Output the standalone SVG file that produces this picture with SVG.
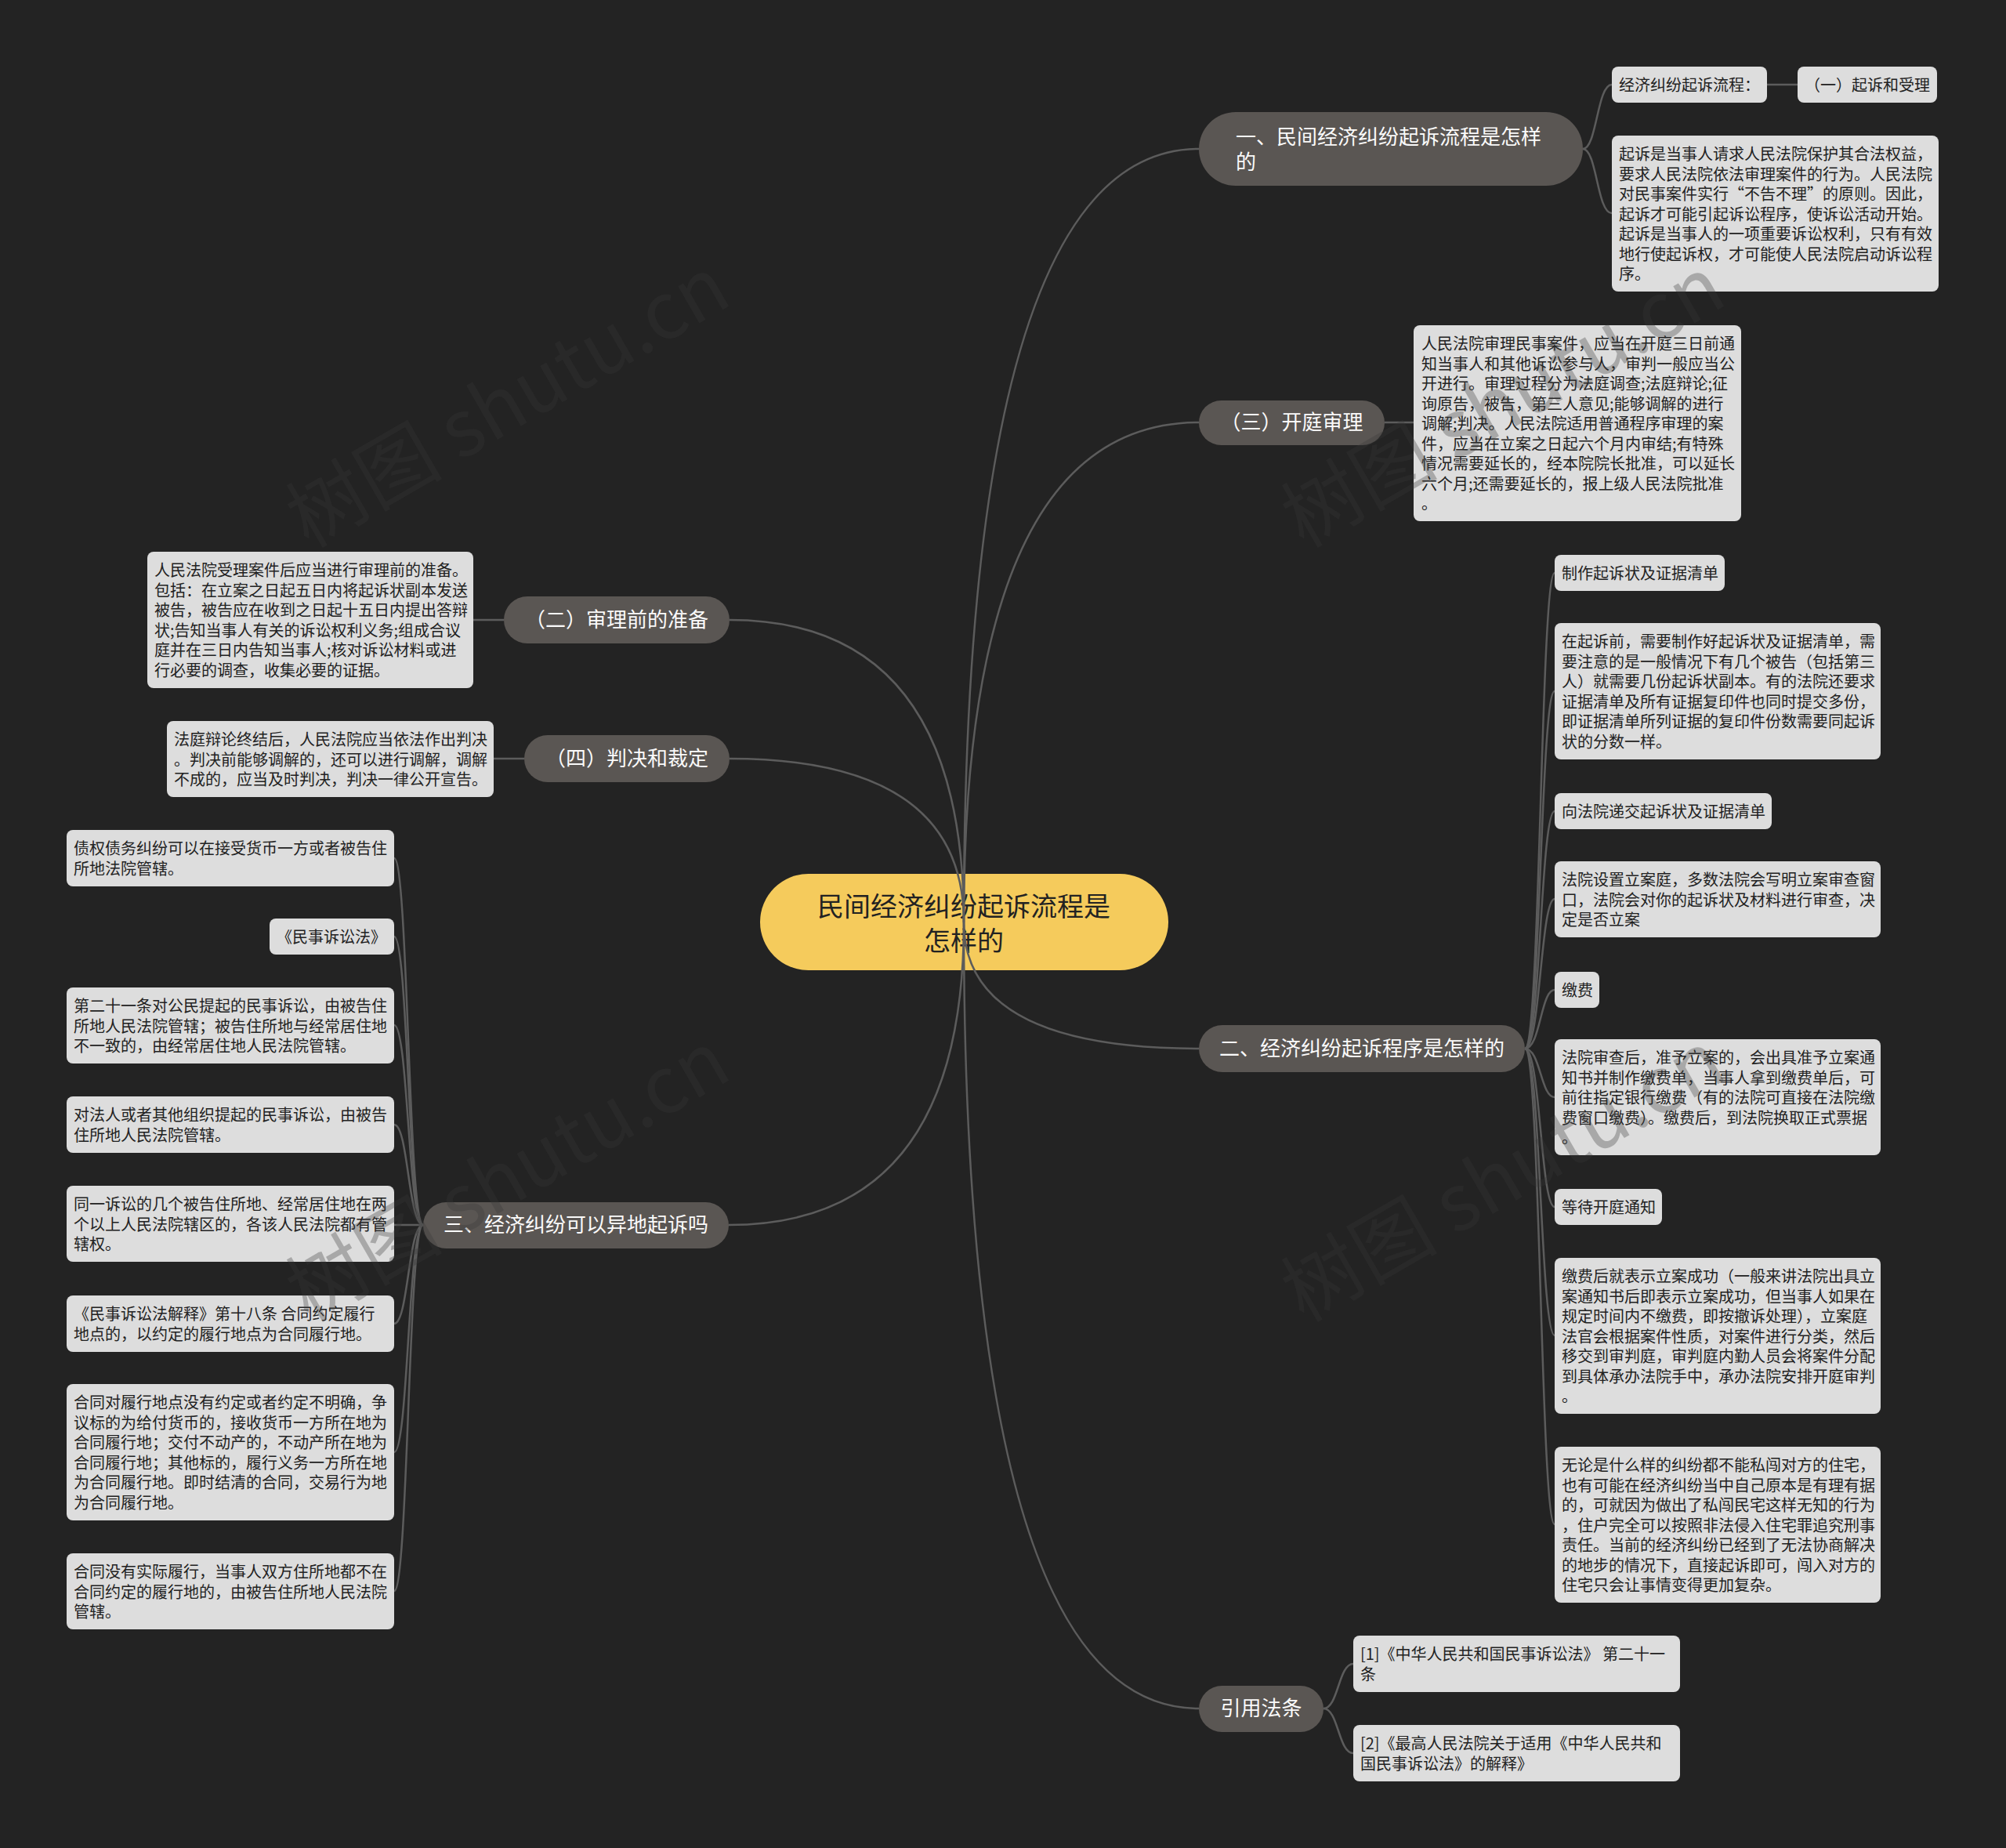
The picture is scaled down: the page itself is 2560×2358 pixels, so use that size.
<svg xmlns="http://www.w3.org/2000/svg" width="2560" height="2358" viewBox="0 0 2560 2358">
<style>
text{font-family:"Noto Sans CJK SC","Noto Sans",sans-serif}
.bg{fill:#232323}
.root rect{fill:#f5cb5c}
.root text{font-size:34px;fill:#222;text-anchor:middle}
.pill rect{fill:#5a5653}
.pill text{font-size:26px;fill:#fafafa}
.pill text.c{text-anchor:middle}
.leaf rect{fill:#dddddd}
.leaf text{font-size:20px;fill:#222}
.conn path{fill:none;stroke:#5c5c5c;stroke-width:2.5}
.wm text{font-size:100px;fill:#393939;fill-opacity:0.32;text-anchor:middle}
</style>
<rect class="bg" x="0" y="0" width="2560" height="2358"/>

<g id="root" class="root">
<rect x="970" y="1115" width="521" height="123" rx="61.5"/>
<text x="1230" y="1169">民间经济纠纷起诉流程是</text>
<text x="1230" y="1213">怎样的</text>
</g>

<g id="connectors" class="conn">
<path d="M1230 1177 Q1230 190 1530 190"/>
<path d="M1230 1177 Q1230 539 1530 539"/>
<path d="M1230 1177 Q1230 1338 1530 1338"/>
<path d="M1230 1177 Q1230 2180 1530 2180"/>
<path d="M1230 1177 Q1230 791 931 791"/>
<path d="M1230 1177 Q1230 968 931 968"/>
<path d="M1230 1177 Q1230 1563 930 1563"/>
<path d="M2020 190 C2038 190 2038 108 2057 108"/>
<path d="M2020 190 C2038 190 2038 272 2057 272"/>
<path d="M2255 108 H2294"/>
<path d="M1767 539 H1804"/>
<path d="M1946 1338 C1966 1338 1966 731 1984 731"/>
<path d="M1946 1338 C1966 1338 1966 882 1984 882"/>
<path d="M1946 1338 C1966 1338 1966 1035 1984 1035"/>
<path d="M1946 1338 C1966 1338 1966 1147 1984 1147"/>
<path d="M1946 1338 C1966 1338 1966 1263 1984 1263"/>
<path d="M1946 1338 C1966 1338 1966 1400 1984 1400"/>
<path d="M1946 1338 C1966 1338 1966 1540 1984 1540"/>
<path d="M1946 1338 C1966 1338 1966 1704 1984 1704"/>
<path d="M1946 1338 C1966 1338 1966 1945 1984 1945"/>
<path d="M1689 2180 C1708 2180 1708 2123 1727 2123"/>
<path d="M1689 2180 C1708 2180 1708 2237 1727 2237"/>
<path d="M643 791 H604"/>
<path d="M669 968 H630"/>
<path d="M540 1563 C521 1563 521 1095 503 1095"/>
<path d="M540 1563 C521 1563 521 1195 503 1195"/>
<path d="M540 1563 C521 1563 521 1308 503 1308"/>
<path d="M540 1563 C521 1563 521 1435 503 1435"/>
<path d="M540 1563 H503"/>
<path d="M540 1563 C521 1563 521 1689 503 1689"/>
<path d="M540 1563 C521 1563 521 1853 503 1853"/>
<path d="M540 1563 C521 1563 521 2030 503 2030"/>
</g>

<g id="n1" class="pill">
<rect x="1530" y="143" width="490" height="94" rx="47"/>
<text x="1577" y="184">一、民间经济纠纷起诉流程是怎样</text>
<text x="1577" y="216">的</text>
</g>
<g id="n1a" class="leaf">
<rect x="2057" y="85" width="198" height="46" rx="8"/>
<text x="2066" y="116">经济纠纷起诉流程：</text>
</g>
<g id="n1b" class="leaf">
<rect x="2294" y="85" width="178" height="46" rx="8"/>
<text x="2303" y="116">（一）起诉和受理</text>
</g>
<g id="n1c" class="leaf">
<rect x="2057" y="173" width="417" height="199" rx="8"/>
<text><tspan x="2066" y="204">起诉是当事人请求人民法院保护其合法权益，</tspan><tspan x="2066" y="229.5">要求人民法院依法审理案件的行为。人民法院</tspan><tspan x="2066" y="255">对民事案件实行“不告不理”的原则。因此，</tspan><tspan x="2066" y="280.5">起诉才可能引起诉讼程序，使诉讼活动开始。</tspan><tspan x="2066" y="306">起诉是当事人的一项重要诉讼权利，只有有效</tspan><tspan x="2066" y="331.5">地行使起诉权，才可能使人民法院启动诉讼程</tspan><tspan x="2066" y="357">序。</tspan></text>
</g>

<g id="n3" class="pill">
<rect x="1530" y="511" width="237" height="57" rx="28.5"/>
<text class="c" x="1648.5" y="548">（三）开庭审理</text>
</g>
<g id="n3a" class="leaf">
<rect x="1804" y="415" width="418" height="250" rx="8"/>
<text><tspan x="1814" y="446">人民法院审理民事案件，应当在开庭三日前通</tspan><tspan x="1814" y="471.5">知当事人和其他诉讼参与人，审判一般应当公</tspan><tspan x="1814" y="497">开进行。审理过程分为法庭调查;法庭辩论;征</tspan><tspan x="1814" y="522.5">询原告，被告，第三人意见;能够调解的进行</tspan><tspan x="1814" y="548">调解;判决。人民法院适用普通程序审理的案</tspan><tspan x="1814" y="573.5">件，应当在立案之日起六个月内审结;有特殊</tspan><tspan x="1814" y="599">情况需要延长的，经本院院长批准，可以延长</tspan><tspan x="1814" y="624.5">六个月;还需要延长的，报上级人民法院批准</tspan><tspan x="1814" y="650">。</tspan></text>
</g>

<g id="n2" class="pill">
<rect x="1530" y="1308" width="416" height="60" rx="30"/>
<text class="c" x="1738" y="1347">二、经济纠纷起诉程序是怎样的</text>
</g>
<g id="n2a" class="leaf">
<rect x="1984" y="708" width="217" height="46" rx="8"/>
<text x="1993" y="739">制作起诉状及证据清单</text>
</g>
<g id="n2b" class="leaf">
<rect x="1984" y="795" width="416" height="174" rx="8"/>
<text><tspan x="1993" y="826">在起诉前，需要制作好起诉状及证据清单，需</tspan><tspan x="1993" y="851.5">要注意的是一般情况下有几个被告（包括第三</tspan><tspan x="1993" y="877">人）就需要几份起诉状副本。有的法院还要求</tspan><tspan x="1993" y="902.5">证据清单及所有证据复印件也同时提交多份，</tspan><tspan x="1993" y="928">即证据清单所列证据的复印件份数需要同起诉</tspan><tspan x="1993" y="953.5">状的分数一样。</tspan></text>
</g>
<g id="n2c" class="leaf">
<rect x="1984" y="1012" width="277" height="46" rx="8"/>
<text x="1993" y="1043">向法院递交起诉状及证据清单</text>
</g>
<g id="n2d" class="leaf">
<rect x="1984" y="1099" width="416" height="97" rx="8"/>
<text><tspan x="1993" y="1130">法院设置立案庭，多数法院会写明立案审查窗</tspan><tspan x="1993" y="1155.5">口，法院会对你的起诉状及材料进行审查，决</tspan><tspan x="1993" y="1181">定是否立案</tspan></text>
</g>
<g id="n2e" class="leaf">
<rect x="1984" y="1240" width="57" height="46" rx="8"/>
<text x="1993" y="1271">缴费</text>
</g>
<g id="n2f" class="leaf">
<rect x="1984" y="1326" width="416" height="148" rx="8"/>
<text><tspan x="1993" y="1357">法院审查后，准予立案的，会出具准予立案通</tspan><tspan x="1993" y="1382.5">知书并制作缴费单，当事人拿到缴费单后，可</tspan><tspan x="1993" y="1408">前往指定银行缴费（有的法院可直接在法院缴</tspan><tspan x="1993" y="1433.5">费窗口缴费）。缴费后，到法院换取正式票据</tspan><tspan x="1993" y="1459">。</tspan></text>
</g>
<g id="n2g" class="leaf">
<rect x="1984" y="1517" width="137" height="46" rx="8"/>
<text x="1993" y="1548">等待开庭通知</text>
</g>
<g id="n2h" class="leaf">
<rect x="1984" y="1605" width="416" height="199" rx="8"/>
<text><tspan x="1993" y="1636">缴费后就表示立案成功（一般来讲法院出具立</tspan><tspan x="1993" y="1661.5">案通知书后即表示立案成功，但当事人如果在</tspan><tspan x="1993" y="1687">规定时间内不缴费，即按撤诉处理），立案庭</tspan><tspan x="1993" y="1712.5">法官会根据案件性质，对案件进行分类，然后</tspan><tspan x="1993" y="1738">移交到审判庭，审判庭内勤人员会将案件分配</tspan><tspan x="1993" y="1763.5">到具体承办法院手中，承办法院安排开庭审判</tspan><tspan x="1993" y="1789">。</tspan></text>
</g>
<g id="n2i" class="leaf">
<rect x="1984" y="1846" width="416" height="199" rx="8"/>
<text><tspan x="1993" y="1877">无论是什么样的纠纷都不能私闯对方的住宅，</tspan><tspan x="1993" y="1902.5">也有可能在经济纠纷当中自己原本是有理有据</tspan><tspan x="1993" y="1928">的，可就因为做出了私闯民宅这样无知的行为</tspan><tspan x="1993" y="1953.5">，住户完全可以按照非法侵入住宅罪追究刑事</tspan><tspan x="1993" y="1979">责任。当前的经济纠纷已经到了无法协商解决</tspan><tspan x="1993" y="2004.5">的地步的情况下，直接起诉即可，闯入对方的</tspan><tspan x="1993" y="2030">住宅只会让事情变得更加复杂。</tspan></text>
</g>

<g id="n5" class="pill">
<rect x="1530" y="2151" width="159" height="59" rx="29.5"/>
<text class="c" x="1609.5" y="2189">引用法条</text>
</g>
<g id="n5a" class="leaf">
<rect x="1727" y="2087" width="417" height="72" rx="8"/>
<text><tspan x="1736" y="2118">[1]《中华人民共和国民事诉讼法》 第二十一</tspan><tspan x="1736" y="2143.5">条</tspan></text>
</g>
<g id="n5b" class="leaf">
<rect x="1727" y="2201" width="417" height="72" rx="8"/>
<text><tspan x="1736" y="2232">[2]《最高人民法院关于适用《中华人民共和</tspan><tspan x="1736" y="2257.5">国民事诉讼法》的解释》</tspan></text>
</g>

<g id="n6" class="pill">
<rect x="643" y="761" width="288" height="60" rx="30"/>
<text class="c" x="787" y="800">（二）审理前的准备</text>
</g>
<g id="n6a" class="leaf">
<rect x="188" y="704" width="416" height="174" rx="8"/>
<text><tspan x="197" y="735">人民法院受理案件后应当进行审理前的准备。</tspan><tspan x="197" y="760.5">包括：在立案之日起五日内将起诉状副本发送</tspan><tspan x="197" y="786">被告，被告应在收到之日起十五日内提出答辩</tspan><tspan x="197" y="811.5">状;告知当事人有关的诉讼权利义务;组成合议</tspan><tspan x="197" y="837">庭并在三日内告知当事人;核对诉讼材料或进</tspan><tspan x="197" y="862.5">行必要的调查，收集必要的证据。</tspan></text>
</g>

<g id="n7" class="pill">
<rect x="669" y="938" width="262" height="60" rx="30"/>
<text class="c" x="800" y="977">（四）判决和裁定</text>
</g>
<g id="n7a" class="leaf">
<rect x="213" y="920" width="417" height="97" rx="8"/>
<text><tspan x="222" y="951">法庭辩论终结后，人民法院应当依法作出判决</tspan><tspan x="222" y="976.5">。判决前能够调解的，还可以进行调解，调解</tspan><tspan x="222" y="1002">不成的，应当及时判决，判决一律公开宣告。</tspan></text>
</g>

<g id="n4" class="pill">
<rect x="540" y="1534" width="390" height="59" rx="29.5"/>
<text class="c" x="735" y="1572">三、经济纠纷可以异地起诉吗</text>
</g>
<g id="n4a" class="leaf">
<rect x="85" y="1059" width="418" height="72" rx="8"/>
<text><tspan x="94" y="1090">债权债务纠纷可以在接受货币一方或者被告住</tspan><tspan x="94" y="1115.5">所地法院管辖。</tspan></text>
</g>
<g id="n4b" class="leaf">
<rect x="344" y="1172" width="159" height="46" rx="8"/>
<text x="353" y="1203">《民事诉讼法》</text>
</g>
<g id="n4c" class="leaf">
<rect x="85" y="1260" width="418" height="97" rx="8"/>
<text><tspan x="94" y="1291">第二十一条对公民提起的民事诉讼，由被告住</tspan><tspan x="94" y="1316.5">所地人民法院管辖；被告住所地与经常居住地</tspan><tspan x="94" y="1342">不一致的，由经常居住地人民法院管辖。</tspan></text>
</g>
<g id="n4d" class="leaf">
<rect x="85" y="1399" width="418" height="72" rx="8"/>
<text><tspan x="94" y="1430">对法人或者其他组织提起的民事诉讼，由被告</tspan><tspan x="94" y="1455.5">住所地人民法院管辖。</tspan></text>
</g>
<g id="n4e" class="leaf">
<rect x="85" y="1513" width="418" height="97" rx="8"/>
<text><tspan x="94" y="1544">同一诉讼的几个被告住所地、经常居住地在两</tspan><tspan x="94" y="1569.5">个以上人民法院辖区的，各该人民法院都有管</tspan><tspan x="94" y="1595">辖权。</tspan></text>
</g>
<g id="n4f" class="leaf">
<rect x="85" y="1653" width="418" height="72" rx="8"/>
<text><tspan x="94" y="1684">《民事诉讼法解释》第十八条 合同约定履行</tspan><tspan x="94" y="1709.5">地点的，以约定的履行地点为合同履行地。</tspan></text>
</g>
<g id="n4g" class="leaf">
<rect x="85" y="1766" width="418" height="174" rx="8"/>
<text><tspan x="94" y="1797">合同对履行地点没有约定或者约定不明确，争</tspan><tspan x="94" y="1822.5">议标的为给付货币的，接收货币一方所在地为</tspan><tspan x="94" y="1848">合同履行地；交付不动产的，不动产所在地为</tspan><tspan x="94" y="1873.5">合同履行地；其他标的，履行义务一方所在地</tspan><tspan x="94" y="1899">为合同履行地。即时结清的合同，交易行为地</tspan><tspan x="94" y="1924.5">为合同履行地。</tspan></text>
</g>
<g id="n4h" class="leaf">
<rect x="85" y="1982" width="418" height="97" rx="8"/>
<text><tspan x="94" y="2013">合同没有实际履行，当事人双方住所地都不在</tspan><tspan x="94" y="2038.5">合同约定的履行地的，由被告住所地人民法院</tspan><tspan x="94" y="2064">管辖。</tspan></text>
</g>

<g id="watermark" class="wm">
<text transform="translate(648 513) rotate(-30)" y="35">树图 shutu.cn</text>
<text transform="translate(1918 513) rotate(-30)" y="35">树图 shutu.cn</text>
<text transform="translate(648 1501) rotate(-30)" y="35">树图 shutu.cn</text>
<text transform="translate(1918 1501) rotate(-30)" y="35">树图 shutu.cn</text>
</g>
</svg>
